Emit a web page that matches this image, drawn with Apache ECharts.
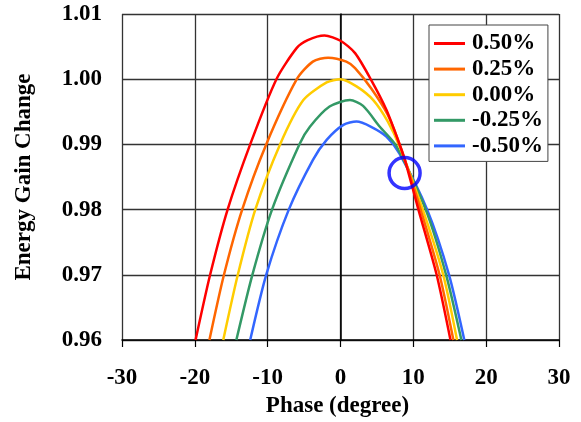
<!DOCTYPE html>
<html>
<head>
<meta charset="utf-8">
<script src="https://cdn.jsdelivr.net/npm/echarts@6/dist/echarts.min.js"></script>
<style>
  html, body { margin: 0; padding: 0; background: #fff; }
  #chart { width: 581px; height: 422px; }
</style>
</head>
<body>
<div id="chart"></div>
<script>
const seriesNames = ["0.50%", "0.25%", "0.00%", "-0.25%", "-0.50%"];
const seriesColors = ["#ff0000", "#ff6600", "#ffcc00", "#339966", "#3366ff"];

// [phase (degree), energy gain change]
const gainP050 = [[-19.9, 0.960], [-17.9, 0.970], [-15.5, 0.980], [-12.4, 0.990], [-8.8, 1.000],
  [-6.0, 1.0048], [-4.5, 1.0060], [-2.2, 1.0067], [0.0, 1.0059], [2.0, 1.0040], [4.2, 0.9999],
  [6.3, 0.9953], [8.4, 0.9891], [9.1, 0.9866], [10.7, 0.980], [13.2, 0.970], [15.1, 0.960]];
const gainP025 = [[-18.0, 0.960], [-16.0, 0.970], [-13.5, 0.980], [-10.2, 0.990], [-6.0, 1.000],
  [-3.8, 1.0027], [-1.7, 1.0033], [0.8, 1.0027], [2.0, 1.0017], [4.2, 0.9986], [6.5, 0.9945],
  [8.4, 0.9891], [11.0, 0.980], [13.6, 0.970], [15.5, 0.960]];
const gainP000 = [[-16.1, 0.960], [-14.1, 0.970], [-11.7, 0.980], [-8.3, 0.990], [-5.1, 0.9968],
  [-1.9, 0.9995], [0.0, 1.000], [2.2, 0.9989], [4.5, 0.9968], [6.5, 0.9935], [8.1, 0.9897],
  [11.3, 0.980], [14.1, 0.970], [16.0, 0.960]];
const gainM025 = [[-14.3, 0.960], [-12.1, 0.970], [-9.4, 0.980], [-5.6, 0.9901], [-4.2, 0.9927],
  [-1.5, 0.9958], [1.3, 0.9968], [3.1, 0.9959], [5.4, 0.9927], [7.7, 0.9897], [11.7, 0.980],
  [14.5, 0.970], [16.6, 0.960]];
const gainM050 = [[-12.4, 0.960], [-10.2, 0.970], [-7.1, 0.980], [-3.8, 0.9876], [-1.9, 0.9907],
  [0.4, 0.9930], [2.2, 0.9935], [4.2, 0.9927], [6.3, 0.9912], [8.1, 0.9886], [11.9, 0.980],
  [14.9, 0.970], [17.0, 0.960]];
const crossPoint = [[8.8, 0.9856]];

const xTicks = { min: -30, max: 30, step: 10 };
const yTicks = { min: 0.96, max: 1.01, step: 0.01 };

const font = '"Liberation Serif", "Times New Roman", serif';
const curves = [gainP050, gainP025, gainP000, gainM025, gainM050];

const chart = echarts.init(document.getElementById("chart"));

const lineSeries = curves.map((pts, i) => ({
  name: seriesNames[i],
  type: "line",
  data: pts,
  symbol: "none",
  smooth: 0.25,
  animation: false,
  lineStyle: { color: seriesColors[i], width: 2.5 },
  itemStyle: { color: seriesColors[i] },
  z: 10 - i,
}));

const option = {
  backgroundColor: "#fff",
  animation: false,
  grid: { left: 122, right: 22, top: 14, bottom: 82, outerBoundsMode: "none", containLabel: false },
  legend: {
    data: seriesNames,
    orient: "vertical",
    left: 429,
    top: 25,
    backgroundColor: "#fff",
    borderColor: "#444",
    borderWidth: 1,
    padding: [7, 5, 4, 5],
    itemGap: 2.6,
    itemWidth: 31,
    itemHeight: 3,
    icon: "rect",
    textStyle: {
      fontFamily: font,
      fontWeight: "bold",
      fontSize: 23,
      lineHeight: 22,
      color: "#000",
      padding: [0, 0, 0, 2],
    },
  },
  xAxis: {
    type: "value",
    min: xTicks.min,
    max: xTicks.max,
    interval: xTicks.step,
    name: "Phase (degree)",
    nameLocation: "middle",
    nameGap: 49,
    nameTextStyle: { fontFamily: font, fontWeight: "bold", fontSize: 23, color: "#000", padding: [0, 6, 0, 0] },
    axisLine: { lineStyle: { color: "#000", width: 1.5 } },
    axisTick: { show: true, inside: false, length: 7, lineStyle: { color: "#000", width: 1.2 } },
    axisLabel: { fontFamily: font, fontWeight: "bold", fontSize: 23, color: "#000", margin: 27 },
    splitLine: { show: true, lineStyle: { color: "#333", width: 1.3 } },
  },
  yAxis: {
    type: "value",
    min: yTicks.min,
    max: yTicks.max,
    interval: yTicks.step,
    name: "Energy Gain Change",
    nameLocation: "middle",
    nameGap: 86,
    nameTextStyle: { fontFamily: font, fontWeight: "bold", fontSize: 23, color: "#000" },
    axisLine: { lineStyle: { color: "#000", width: 1.5 } },
    axisTick: { show: false },
    axisLabel: {
      fontFamily: font, fontWeight: "bold", fontSize: 23, color: "#000", margin: 20,
      padding: [5, 0, 0, 0],
      formatter: (v) => v.toFixed(2),
    },
    splitLine: { show: true, lineStyle: { color: "#333", width: 1.3 } },
  },
  series: [
    ...lineSeries,
    {
      name: "cross",
      type: "scatter",
      data: crossPoint,
      symbol: "circle",
      symbolSize: 31,
      animation: false,
      itemStyle: { color: "transparent", borderColor: "#0000ff", borderWidth: 3.5 },
      z: 20,
    },
  ],
};

chart.setOption(option);
</script>
</body>
</html>
